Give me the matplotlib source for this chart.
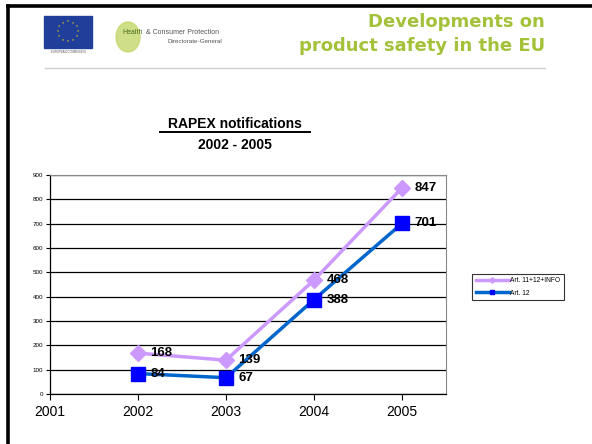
import numpy as np
import matplotlib.pyplot as plt
from matplotlib.patches import Rectangle, Ellipse
from matplotlib.lines import Line2D

years = [2002, 2003, 2004, 2005]
art_all = [168, 139, 468, 847]
art_12 = [84, 67, 388, 701]
year_ticks = [2001, 2002, 2003, 2004, 2005]
value_ticks = [0, 100, 200, 300, 400, 500, 600, 700, 800, 900]

plt.rcParams['font.family'] = ['Liberation Sans', 'DejaVu Sans']

fig = plt.figure(figsize=(5.92, 4.44), dpi=100)

# slide frame (left and top)
fig.add_artist(Line2D([8 / 592, 8 / 592], [0, 1 - 6 / 444], color='black', lw=2.6))
fig.add_artist(Line2D([8 / 592, 1], [1 - 6 / 444, 1 - 6 / 444], color='black', lw=2.6))

# header separator
fig.add_artist(Line2D([45 / 592, 545 / 592], [1 - 68 / 444, 1 - 68 / 444], color='#d0d0d0', lw=1.0))

# EU flag
fig.add_artist(Rectangle((44 / 592, 1 - 48 / 444), 48 / 592, 32 / 444, color='#1f3f9a'))
for a in np.linspace(0, 2 * np.pi, 12, endpoint=False):
    fig.text((68 + 10 * np.cos(a)) / 592, 1 - (32 + 10 * np.sin(a)) / 444, '*',
             color='#ffdd00', fontsize=4, ha='center', va='center')
fig.text(68 / 592, 1 - 52 / 444, 'EUROPEAN COMMISSION', fontsize=2, color='#555555',
         ha='center', va='center')

# Health & Consumer Protection logo
fig.add_artist(Ellipse((128 / 592, 1 - 37 / 444), 24 / 592, 30 / 444, color='#c4d86a', alpha=0.8))
fig.text(122 / 592, 1 - 33 / 444, 'Health', fontsize=5, color='#4a6a1a', ha='left', va='center')
fig.text(146 / 592, 1 - 33 / 444, '& Consumer Protection', fontsize=5, color='#555555',
         ha='left', va='center')
fig.text(168 / 592, 1 - 41 / 444, 'Directorate-General', fontsize=4.5, color='#555555',
         ha='left', va='center')

# slide title
fig.text(545 / 592, 1 - 22 / 444, 'Developments on', fontsize=13, fontweight='bold',
         color='#a3c23a', ha='right', va='center', family=['DejaVu Sans'])
fig.text(545 / 592, 1 - 46 / 444, 'product safety in the EU', fontsize=13, fontweight='bold',
         color='#a3c23a', ha='right', va='center', family=['DejaVu Sans'])

# chart title
fig.text(235 / 592, 1 - 124 / 444, 'RAPEX notifications', fontsize=10, fontweight='bold',
         ha='center', va='center')
fig.add_artist(Line2D([160 / 592, 310 / 592], [1 - 132 / 444, 1 - 132 / 444], color='black', lw=1.4))
fig.text(235 / 592, 1 - 145 / 444, '2002 - 2005', fontsize=10, fontweight='bold',
         ha='center', va='center')

ax = fig.add_axes([50 / 592, 1 - 394 / 444, 396 / 592, 219 / 444])
ax.plot(years, art_all, color='#cc99ff', lw=2.5, marker='D', markersize=8,
        label='Art. 11+12+INFO')
ax.plot(years, art_12, color='#0066cc', lw=2.5, marker='s', markersize=10,
        markerfacecolor='#0000ff', markeredgecolor='#0000ff', label='Art. 12')

for x, y in zip(years, art_all):
    ax.annotate(str(y), (x, y), xytext=(9, 0), textcoords='offset points',
                fontsize=9.5, fontweight='bold', va='center', ha='left')
for x, y in zip(years, art_12):
    ax.annotate(str(y), (x, y), xytext=(9, 0), textcoords='offset points',
                fontsize=9.5, fontweight='bold', va='center', ha='left')

ax.set_xlim(2001, 2005.5)
ax.set_ylim(0, 900)
ax.set_xticks(year_ticks)
ax.set_xticklabels([str(y) for y in year_ticks], fontsize=10)
ax.set_yticks(value_ticks)
ax.set_yticklabels([str(v) for v in value_ticks], fontsize=4.5)
ax.tick_params(axis='x', length=4, width=0.8, pad=4)
ax.tick_params(axis='y', length=3, width=0.8, pad=2)
ax.grid(axis='y', color='black', lw=0.9)
ax.set_axisbelow(True)
ax.spines['top'].set_color('#888888')
ax.spines['right'].set_color('#888888')
ax.spines['left'].set_linewidth(0.9)
ax.spines['bottom'].set_linewidth(0.9)

leg = ax.legend(loc='center left', bbox_to_anchor=(469 / 592, 1 - 287 / 444),
                bbox_transform=fig.transFigure, fontsize=4.8, frameon=True,
                fancybox=False, markerscale=0.35, handlelength=5, borderpad=0.5,
                labelspacing=0.8, handletextpad=0.2)
leg.get_frame().set_edgecolor('black')
leg.get_frame().set_linewidth(0.8)

fig.savefig('out.png', dpi=100)
